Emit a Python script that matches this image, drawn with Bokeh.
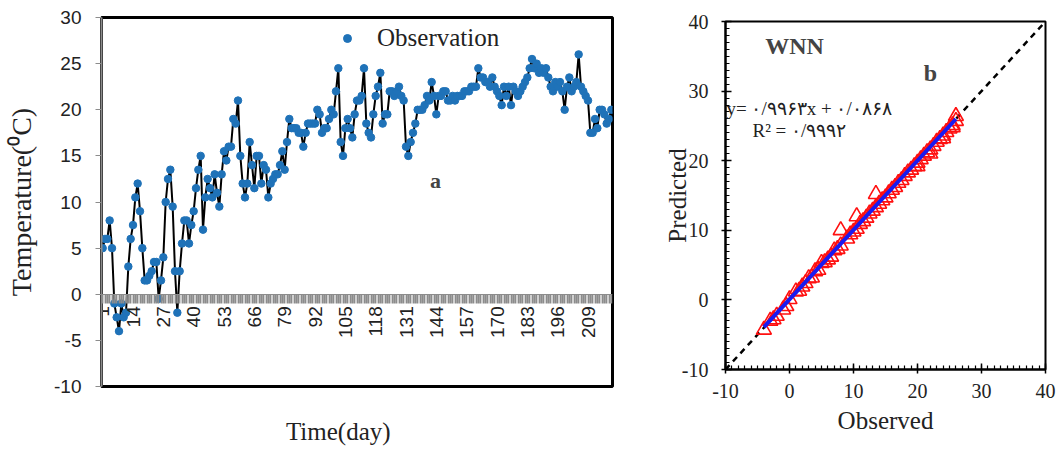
import numpy as np
from bokeh.plotting import figure
from bokeh.layouts import row
from bokeh.models import FixedTicker, Label, Legend, LegendItem, LinearAxis
from bokeh.embed import file_html
from bokeh.resources import INLINE

# ---------------- data: panel a ----------------
temperature = [
    5.0, 6.0, 6.0, 8.0, 5.0, -1.0, -2.5, -4.0, -1.0, -2.5,
    -2.0, 3.0, 6.0, 7.5, 10.5, 12.0, 9.0, 5.0, 1.5, 1.5,
    2.0, 2.5, 3.5, 3.5, -0.5, 1.5, 4.0, 10.0, 12.5, 13.5,
    9.5, 2.5, -2.0, 2.5, 5.5, 8.0, 8.0, 5.5, 7.5, 9.0,
    11.5, 13.5, 15.0, 7.0, 10.5, 12.5, 11.5, 10.5, 13.0, 11.0,
    9.5, 13.0, 15.5, 14.5, 16.0, 16.0, 19.0, 18.5, 21.0, 15.0,
    12.0, 10.5, 12.0, 16.5, 14.0, 11.5, 15.0, 15.0, 12.0, 14.0,
    13.5, 10.5, 12.0, 12.5, 13.0, 13.0, 14.0, 15.5, 13.5, 16.5,
    19.0, 18.0, 18.0, 18.0, 17.5, 17.5, 16.0, 17.5, 18.5, 18.5,
    18.5, 18.5, 20.0, 19.5, 17.5, 18.0, 18.0, 19.0, 20.0, 19.5,
    22.0, 24.5, 16.5, 15.0, 18.0, 19.0, 18.0, 17.0, 19.5, 21.0,
    21.0, 21.5, 24.5, 18.5, 17.5, 17.0, 19.5, 21.5, 22.5, 24.0,
    18.5, 19.5, 19.5, 22.0, 22.0, 21.5, 22.0, 22.5, 21.5, 21.0,
    16.0, 15.0, 16.5, 17.5, 18.5, 20.0, 20.0, 20.0, 20.5, 21.5,
    21.0, 23.0, 21.5, 19.5, 21.5, 21.5, 22.0, 22.0, 21.0, 21.0,
    21.5, 21.0, 21.5, 21.5, 21.5, 22.0, 22.0, 22.0, 22.5, 22.5,
    22.5, 24.5, 23.5, 23.5, 23.0, 23.0, 22.5, 23.5, 22.5, 22.0,
    21.5, 20.5, 22.5, 21.5, 22.5, 20.5, 22.5, 22.0, 21.5, 22.0,
    22.5, 23.0, 23.5, 24.5, 25.5, 24.5, 25.0, 24.0, 24.5, 24.0,
    24.5, 23.5, 22.5, 22.0, 23.0, 22.5, 23.0, 22.0, 20.0, 22.5,
    23.5, 22.0, 22.5, 23.0, 26.0, 22.5, 22.0, 21.5, 21.0, 17.5,
    17.5, 19.0, 18.0, 20.0, 20.0, 19.5, 18.5, 19.0, 20.0,
]
days = list(range(1, len(temperature) + 1))
day_tick_labels = [1, 14, 27, 40, 53, 66, 79, 92, 105, 118, 131, 144, 157, 170, 183, 196, 209]
temp_ticks = [-10, -5, 0, 5, 10, 15, 20, 25, 30]

# ---------------- data: panel b ----------------
observed = [-4.0, -2.5, -2.0, -1.0, -0.5, 0.0, 1.5, 2.0, 2.5, 3.0, 3.5, 4.0,
            5.0, 5.5, 6.0, 7.0, 7.5, 8.0, 8.0, 9.0, 9.5, 10.0, 10.5, 10.5,
            11.0, 11.5, 12.0, 12.5, 13.0, 13.5, 13.5, 14.0, 14.5, 15.0, 15.5,
            16.0, 16.5, 17.0, 17.5, 18.0, 18.5, 19.0, 19.5, 20.0, 20.5, 21.0,
            21.5, 22.0, 22.5, 23.0, 23.5, 24.0, 24.5, 25.0, 25.5, 26.0,
            26.0, 25.5, 24.0, 22.0, 20.0, -3.0, 1.0, 4.5, 6.5]
predicted = [-4.3, -2.8, -2.3, -1.4, -0.9, 0.1, 1.3, 1.9, 2.4, 3.1, 3.2, 4.1,
             5.3, 5.4, 5.8, 7.1, 7.3, 10.0, 7.8, 8.8, 9.4, 9.8, 12.0, 10.2,
             10.9, 11.3, 11.8, 12.4, 12.8, 15.2, 13.3, 13.8, 14.3, 14.7, 15.3,
             15.8, 16.2, 16.8, 17.2, 17.8, 18.3, 18.7, 19.2, 19.7, 20.2, 20.7,
             21.2, 21.6, 22.1, 22.7, 23.1, 23.6, 24.1, 24.6, 25.1, 25.7,
             26.4, 24.8, 23.2, 21.0, 19.2, -3.0, 1.2, 4.3, 6.2]
fit_slope = 0.9963
fit_intercept = 0.0868
fit_r2 = 0.9992
b_ticks = [-10, 0, 10, 20, 30, 40]
b_limits = [-10, 40]

SERIF = "Liberation Serif"
SANS = "Liberation Sans"

# ---------------- panel a ----------------
N = len(temperature)
pa = figure(width=658, height=450, x_range=(0.5, N + 0.5), y_range=(-10, 30),
            output_backend="svg", toolbar_location=None, frame_align=False,
            min_border_left=101, min_border_right=46, min_border_top=17, min_border_bottom=64)
pa.grid.visible = False
pa.outline_line_color = "black"
pa.outline_line_width = 3

pa.line(days, temperature, line_color="black", line_width=2)
obs_r = pa.scatter(days, temperature, size=7.5, fill_color="#1f72b8", line_color="#1f72b8")

xa = pa.xaxis[0]
xa.fixed_location = 0
xa.ticker = FixedTicker(ticks=days)
xa.major_label_overrides = {d: (str(d) if d in day_tick_labels else "") for d in days}
xa.major_label_orientation = np.pi / 2
xa.major_tick_in = 0
xa.major_tick_out = 9
xa.major_tick_line_color = "#8c8c8c"
xa.major_tick_line_width = 1.8
xa.minor_tick_line_color = None
xa.axis_line_color = "#8c8c8c"
xa.major_label_text_font = SANS
xa.major_label_text_font_size = "19px"
xa.major_label_text_color = "#222222"
xa.major_label_standoff = 3

# an axis that carries only the title of the time axis, below the frame
time_title_axis = LinearAxis(ticker=FixedTicker(ticks=[]),
                             axis_label="Time(day)" + "\u00a0" * 6,
                             axis_line_color=None, major_tick_line_color=None,
                             minor_tick_line_color=None,
                             major_label_text_font_size="1px",
                             axis_label_standoff=31,
                             axis_label_text_font=SERIF,
                             axis_label_text_font_size="25px",
                             axis_label_text_font_style="normal",
                             axis_label_text_color="#222222")
pa.add_layout(time_title_axis, "below")

ya = pa.yaxis[0]
ya.ticker = FixedTicker(ticks=temp_ticks)
ya.major_label_overrides = {t: str(t) for t in temp_ticks}
ya.axis_label = "Temperature(\u2070C)"
ya.axis_label_text_font = SERIF
ya.axis_label_text_font_size = "28px"
ya.axis_label_text_font_style = "normal"
ya.axis_label_text_color = "#222222"
ya.axis_label_standoff = 14
ya.major_label_text_font = SANS
ya.major_label_text_font_size = "19px"
ya.major_label_text_color = "#222222"
ya.major_label_standoff = 14
ya.major_tick_in = 0
ya.major_tick_out = 6
ya.major_tick_line_color = "#8c8c8c"
ya.minor_tick_line_color = None
ya.axis_line_color = "#8c8c8c"
ya.axis_line_width = 2

legend = Legend(items=[LegendItem(label="Observation", renderers=[obs_r])],
                location=(236, 334), padding=0, margin=0, spacing=0,
                glyph_width=20, glyph_height=24, label_height=24, label_standoff=20,
                label_text_font=SERIF, label_text_font_size="25px",
                label_text_color="#222222",
                background_fill_alpha=0, border_line_color=None)
pa.add_layout(legend)

pa.add_layout(Label(x=334, y=206, x_units="screen", y_units="screen", text="a",
                    text_font=SERIF, text_font_size="22px", text_font_style="bold",
                    text_align="center", text_baseline="middle"))

# ---------------- panel b ----------------
pb = figure(width=401, height=450, x_range=(-10, 40), y_range=(-10, 40),
            output_backend="svg", toolbar_location=None, frame_align=False,
            min_border_left=67, min_border_right=14, min_border_top=21, min_border_bottom=81)
pb.grid.visible = False
pb.outline_line_color = "black"
pb.outline_line_width = 2

pb.line(b_limits, b_limits, line_color="black", line_width=2.5, line_dash="6 5")
pb.scatter(observed, predicted, marker="triangle", size=15, fill_color=None,
           line_color="#ff1010", line_width=1.6)
fit_x = [min(observed), max(observed)]
fit_y = [fit_slope * v + fit_intercept for v in fit_x]
pb.line(fit_x, fit_y, line_color="#1a1af0", line_width=4)

for ax in (pb.xaxis[0], pb.yaxis[0]):
    ax.ticker = FixedTicker(ticks=b_ticks, minor_ticks=list(range(-10, 41)))
    ax.major_label_overrides = {t: str(t) for t in b_ticks}
    ax.major_label_text_font = SERIF
    ax.major_label_text_font_size = "20px"
    ax.major_label_text_color = "#222222"
    ax.axis_label_text_font = SERIF
    ax.axis_label_text_font_size = "25px"
    ax.axis_label_text_font_style = "normal"
    ax.axis_label_text_color = "#222222"
    ax.axis_line_color = "black"
    ax.axis_line_width = 2
    ax.major_tick_in = 6
    ax.major_tick_out = 4
    ax.minor_tick_in = 4
    ax.minor_tick_out = 0
    ax.major_tick_line_width = 1.5
    ax.minor_tick_line_width = 1.2
pb.xaxis[0].axis_label = "Observed"
pb.yaxis[0].axis_label = "Predicted"
pb.xaxis[0].major_label_standoff = 10
pb.xaxis[0].axis_label_standoff = 6
pb.yaxis[0].major_label_standoff = 13
pb.yaxis[0].axis_label_standoff = -12

persian = str.maketrans("0123456789.", "\u06f0\u06f1\u06f2\u06f3\u06f4\u06f5\u06f6\u06f7\u06f8\u06f9/")
eq_text = "y= " + f"{fit_slope:.4f}".translate(persian) + "x + " + f"{fit_intercept:.4f}".translate(persian)
r2_text = "R\u00b2 = " + f"{fit_r2:.4f}".translate(persian)

pb.add_layout(Label(x=1, y=261, x_units="screen", y_units="screen", text=eq_text,
                    text_font=SERIF, text_font_size="19px", text_color="#222222",
                    text_baseline="middle"))
pb.add_layout(Label(x=27, y=239, x_units="screen", y_units="screen", text=r2_text,
                    text_font=SERIF, text_font_size="19px", text_color="#222222",
                    text_baseline="middle"))
pb.add_layout(Label(x=69, y=324, x_units="screen", y_units="screen", text="WNN",
                    text_font=SERIF, text_font_size="24px", text_font_style="bold",
                    text_align="center", text_baseline="middle"))
pb.add_layout(Label(x=205, y=297, x_units="screen", y_units="screen", text="b",
                    text_font=SERIF, text_font_size="24px", text_font_style="bold",
                    text_align="center", text_baseline="middle"))

layout = row(pa, pb)
open("out.html", "w").write(file_html(layout, INLINE))
